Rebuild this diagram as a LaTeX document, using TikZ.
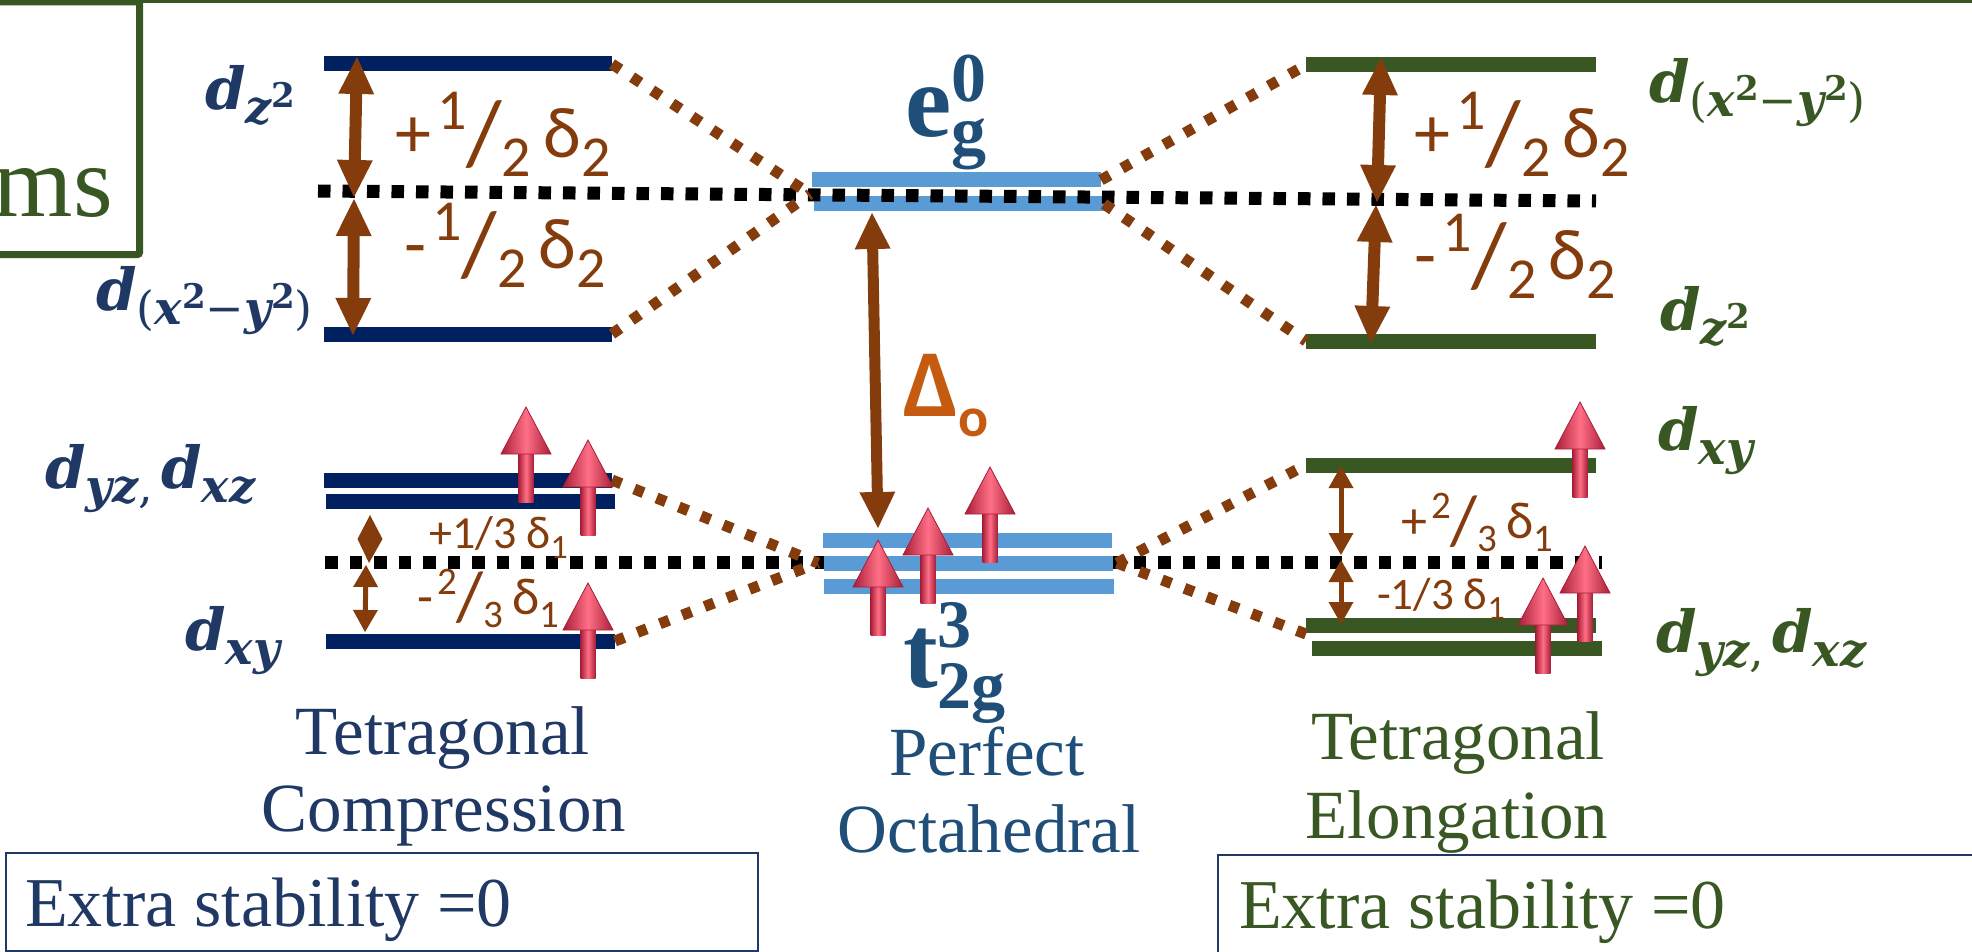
\documentclass[tikz,border=0pt]{standalone}
\usepackage{fontspec}
\setmainfont{Liberation Serif}
\newfontfamily\calib{Carlito}
\newfontfamily\dvs{DejaVu Serif}
\usetikzlibrary{arrows.meta}
\definecolor{navy}{HTML}{002060}
\definecolor{navytxt}{HTML}{1F3864}
\definecolor{lblue}{HTML}{5B9BD5}
\definecolor{steel}{HTML}{1F4E79}
\definecolor{grn}{HTML}{385723}
\definecolor{brn}{HTML}{843C0C}
\definecolor{org}{HTML}{C55A11}
\definecolor{spinD}{HTML}{A81E38}
\definecolor{spinL}{HTML}{FF6F86}
\newcommand\fs[1]{\fontsize{#1}{#1}\selectfont}
\newcommand\dd{{\dvs\bfseries\itshape\fs{58}d}}
\newcommand\sbx[1]{\raisebox{-14pt}{\dvs\bfseries\itshape\fs{46}#1}}
\newcommand\sq{\raisebox{16pt}{\upshape\fs{34}2}}
\newcommand\rp[1]{{\upshape\mdseries #1}}
\newcommand\dzz{\dd\sbx{z\sq}}
\newcommand\dxy{\dd\sbx{xy}}
\newcommand\dxx{\dd\sbx{\rp{(}x\sq\rp{−}y\sq\rp{)}}}
\newcommand\dyx{\dd\sbx{yz\rp{,}}\hspace{8pt}\dd\sbx{xz}}
\newcommand\halfd[1]{{\calib\fs{72}#1\hspace{6pt}\raisebox{28pt}{\fs{58}1}\raisebox{-7pt}{\fs{92}/}\raisebox{-19pt}{\fs{58}2}\hspace{12pt}δ\raisebox{-19pt}{\fs{58}2}}}
\newcommand\thirdA[3]{{\calib\fs{52}#1\hspace{4pt}\raisebox{20pt}{\fs{39}#2}\raisebox{-6pt}{\fs{70}/}\raisebox{-13pt}{\fs{39}#3}\hspace{9pt}δ\raisebox{-13pt}{\fs{39}1}}}
\newcommand\thirdB[2]{{\calib\fs{#2}#1\hspace{10pt}δ\raisebox{-10pt}{\fs{34}1}}}
\tikzset{
  lbl/.style={anchor=base west, inner sep=0pt},
  ctr/.style={anchor=base, inner sep=0pt, font=\fs{69}},
  navybar/.style={navy, line width=15pt},
  bluebar/.style={lblue, line width=15pt},
  grnbar/.style={grn, line width=15pt},
  blkdot/.style={black, line width=13pt, dash pattern=on 12.5pt off 12pt},
  brdot/.style={brn, line width=11pt, dash pattern=on 10pt off 14pt},
  bigarr/.style={brn, line width=12pt, {Triangle[width=36pt,length=37pt,line width=0pt]}-{Triangle[width=36pt,length=37pt,line width=0pt]}},
  midarr/.style={brn, line width=11pt, {Triangle[width=36pt,length=36pt,line width=0pt]}-{Triangle[width=36pt,length=36pt,line width=0pt]}},
  smarr/.style={brn, line width=5pt, {Triangle[width=25pt,length=22pt,line width=0pt]}-{Triangle[width=25pt,length=22pt,line width=0pt]}},
  framebox/.style={draw=navytxt, line width=2pt, inner sep=0pt},
  spin/.pic={
    \shade[left color=spinD, right color=spinD, middle color=spinL] (-7.5,46) rectangle (7.5,95);
    \shade[left color=spinD, right color=spinD, middle color=spinL] (-25,47) -- (0,0) -- (25,47) -- cycle;
    \draw[spinD, line width=0.8pt] (-25,47) -- (0,0) -- (25,47) -- cycle;
  }
}
\begin{document}
\begin{tikzpicture}[x=1pt,y=-1pt]
\useasboundingbox (0,0) rectangle (1972,952);
\clip (0,0) rectangle (1972,952);
% green frame
\draw[grn, line width=4pt] (138,1.5) -- (1980,1.5);
\draw[grn, line width=7pt, rounded corners=2pt] (-20,2) rectangle (139.5,254.5);
\node[anchor=base east, inner sep=0pt, grn] (ms) at (113,217) {\fs{102}ms};
% coordinates of levels
\coordinate (LA1) at (324,64);  \coordinate (LA2) at (612,64);
\coordinate (LB1) at (324,334); \coordinate (LB2) at (612,334);
\coordinate (LC1) at (324,480); \coordinate (LC2) at (612,480);
\coordinate (LD1) at (326,501); \coordinate (LD2) at (615,501);
\coordinate (LE1) at (326,641); \coordinate (LE2) at (615,641);
\coordinate (EA1) at (812,180); \coordinate (EA2) at (1101,180);
\coordinate (EB1) at (814,204); \coordinate (EB2) at (1104,204);
\coordinate (TA1) at (823,540); \coordinate (TA2) at (1112,540);
\coordinate (TB1) at (824,563); \coordinate (TB2) at (1113,563);
\coordinate (TC1) at (824,586); \coordinate (TC2) at (1114,586);
\coordinate (RA1) at (1306,65);  \coordinate (RA2) at (1596,65);
\coordinate (RB1) at (1306,341); \coordinate (RB2) at (1596,341);
\coordinate (RC1) at (1306,465); \coordinate (RC2) at (1596,465);
\coordinate (RD1) at (1306,625); \coordinate (RD2) at (1596,625);
\coordinate (RE1) at (1312,648); \coordinate (RE2) at (1602,648);
\coordinate (EM1) at (810,194);
\coordinate (TM1) at (818,563); \coordinate (TM2) at (1117,563);
\coordinate (RDm) at (1306,634);
\coordinate (K1) at (318,191); \coordinate (K2) at (1596,201);
\coordinate (K3) at (325,562); \coordinate (K4) at (1602,562);
% bottom dotted reference line (behind)
\draw[blkdot] (K3) -- (K4);
% bars
\draw[navybar] (LA1) -- (LA2);
\draw[navybar] (LB1) -- (LB2);
\draw[navybar] (LC1) -- (LC2);
\draw[navybar] (LD1) -- (LD2);
\draw[navybar] (LE1) -- (LE2);
\draw[bluebar] (EA1) -- (EA2);
\draw[bluebar] (EB1) -- (EB2);
\draw[bluebar] (TA1) -- (TA2);
\draw[bluebar] (TB1) -- (TB2);
\draw[bluebar] (TC1) -- (TC2);
\draw[grnbar] (RA1) -- (RA2);
\draw[grnbar] (RB1) -- (RB2);
\draw[grnbar] (RC1) -- (RC2);
\draw[grnbar] (RD1) -- (RD2);
\draw[grnbar] (RE1) -- (RE2);
% top dotted reference line
\draw[blkdot] (K1) -- (K2);
% correlation lines
\draw[brdot] (LA2) -- (EM1);
\draw[brdot] (LB2) -- (EM1);
\draw[brdot] (EA2) -- (RA1);
\draw[brdot] (EB2) -- (RB1);
\draw[brdot] (LC2) -- (TM1);
\draw[brdot] (LE2) -- (TM1);
\draw[brdot] (TM2) -- (RC1);
\draw[brdot] (TM2) -- (RDm);
% splitting arrows
\coordinate (aL1) at (357,57);  \coordinate (aL2) at (354,197);
\coordinate (aL3) at (354,199); \coordinate (aL4) at (353,335);
\coordinate (aR1) at (1381,58); \coordinate (aR2) at (1377,202);
\coordinate (aR3) at (1376,205); \coordinate (aR4) at (1371,343);
\coordinate (aD1) at (872,213); \coordinate (aD2) at (878,528);
\coordinate (sL1) at (370,515); \coordinate (sLm) at (370,539); \coordinate (sL2) at (369,563);
\coordinate (sL3) at (366,565); \coordinate (sL4) at (365,632);
\coordinate (sR1) at (1341,466); \coordinate (sR2) at (1341,555);
\coordinate (sR3) at (1341,560); \coordinate (sR4) at (1341,624);
\draw[bigarr] (aL1) -- (aL2);
\draw[bigarr] (aL3) -- (aL4);
\draw[bigarr] (aR1) -- (aR2);
\draw[bigarr] (aR3) -- (aR4);
\draw[midarr] (aD1) -- (aD2);
\fill[brn] (sL1) -- ([xshift=12.5pt]sLm) -- (sL2) -- ([xshift=-12.5pt]sLm) -- cycle;
\draw[smarr] (sL3) -- (sL4);
\draw[smarr] (sR1) -- (sR2);
\draw[smarr] (sR3) -- (sR4);
% orbital labels
\node[lbl, navytxt] (ldz) at (205,110) {\dzz};
\node[lbl, navytxt] (ldx) at (96,310) {\dxx};
\node[lbl, navytxt] (ldyz) at (45,488) {\dyx};
\node[lbl, navytxt] (ldxy) at (185,650) {\dxy};
\node[lbl, grn] (rdx) at (1649,103) {\dxx};
\node[lbl, grn] (rdz) at (1660,330) {\dzz};
\node[lbl, grn] (rdxy) at (1658,450) {\dxy};
\node[lbl, grn] (rdyz) at (1656,652) {\dyx};
% splitting values
\node[lbl, brn] (h1) at (395,158) {\halfd{+}};
\node[lbl, brn] (h2) at (404,268) {\halfd{-}};
\node[lbl, brn] (h3) at (1414,158) {\halfd{+}};
\node[lbl, brn] (h4) at (1414,279) {\halfd{-}};
\node[lbl, brn] (q1) at (429,548) {\thirdB{+1/3}{46}};
\node[lbl, brn] (q2) at (417,614) {\thirdA{-}{2}{3}};
\node[lbl, brn] (q3) at (1401,538) {\thirdA{+}{2}{3}};
\node[lbl, brn] (q4) at (1377,609) {\thirdB{-1/3}{45}};
\node[lbl, org] (delta) at (903,416) {\calib\bfseries\fs{96}Δ\raisebox{-20pt}{\fs{56}o}};
\node[lbl, steel] (eg) at (905,137) {\bfseries\fs{104}e\rlap{\raisebox{35pt}{\fs{70}0}}\raisebox{-18pt}{\fs{70}g}};
\node[lbl, steel] (t2g) at (903,687) {\bfseries\fs{104}t\rlap{\raisebox{40pt}{\fs{68}3}}\raisebox{-21pt}{\fs{68}2g}};
% captions
\node[ctr, navytxt] (tc1) at (443,754) {Tetragonal};
\node[ctr, navytxt] (tc2) at (444,831) {Compression};
\node[ctr, steel] (po1) at (987,775) {Perfect};
\node[ctr, steel] (po2) at (989,852) {Octahedral};
\node[ctr, grn] (te1) at (1458,759) {Tetragonal};
\node[ctr, grn] (te2) at (1457,838) {Elongation};
% boxes
\node[framebox, minimum width=752pt, minimum height=98pt] (box1) at (382,902) {};
\node[framebox, minimum width=772pt, minimum height=105pt] (box2) at (1604,907) {};
\node[lbl, navytxt, font=\fs{70}] (ex1) at (25,926) {Extra stability =0};
\node[lbl, grn, font=\fs{70}] (ex2) at (1239,928) {Extra stability =0};
% electrons
\pic at (526,407) {spin};
\pic at (588,440) {spin};
\pic at (588,583) {spin};
\pic at (878,540) {spin};
\pic at (928,508) {spin};
\pic at (990,467) {spin};
\pic at (1580,402) {spin};
\pic at (1585,546) {spin};
\pic at (1543,578) {spin};
\end{tikzpicture}
\end{document}
